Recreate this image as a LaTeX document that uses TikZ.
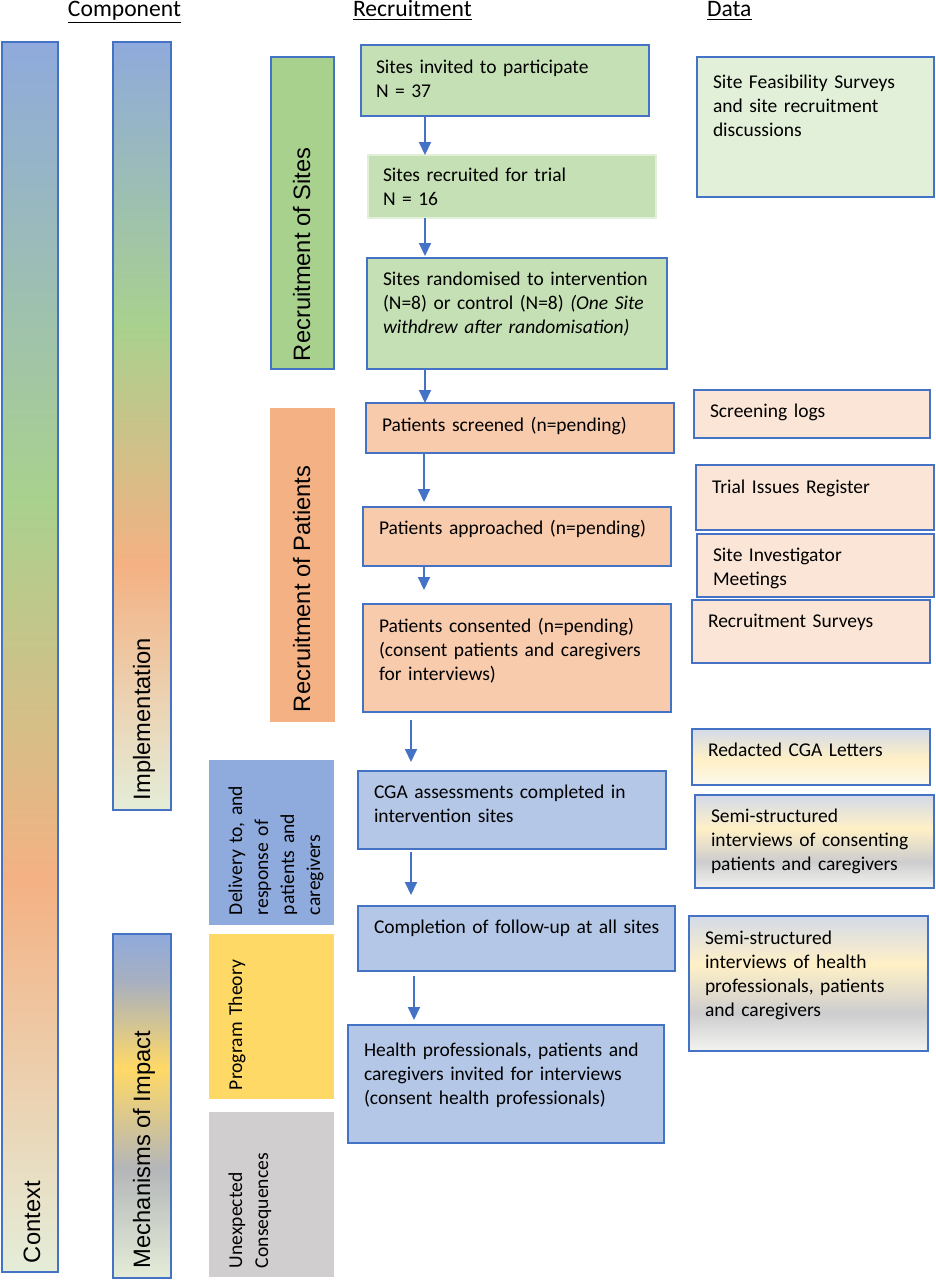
\documentclass[tikz,border=0pt]{standalone}
\usepackage{fontspec}
\setmainfont{Carlito}
\newfontfamily\arialf{Liberation Sans}
\usetikzlibrary{arrows.meta}
\definecolor{bblue}{HTML}{4472C4}
\definecolor{greenbar}{HTML}{A9D18E}
\definecolor{greenbox}{HTML}{C5E0B4}
\definecolor{greendata}{HTML}{E2F0D9}
\definecolor{orangebar}{HTML}{F4B183}
\definecolor{orangebox}{HTML}{F8CBAD}
\definecolor{orangedata}{HTML}{FBE5D6}
\definecolor{bluebar}{HTML}{8FAADC}
\definecolor{bluebox}{HTML}{B4C7E7}
\definecolor{yellowbar}{HTML}{FFD966}
\definecolor{greybar}{HTML}{D0CECE}
\definecolor{lightend}{HTML}{E4EDD8}
\definecolor{mgrey}{HTML}{B4B6B8}
\definecolor{mgreytop}{HTML}{A8B0C0}
\definecolor{dtop}{HTML}{D3DAE8}
\definecolor{dyel}{HTML}{FFF0C6}
\definecolor{dgrey}{HTML}{CDCDCF}
\definecolor{dbot}{HTML}{F3F4F0}
\definecolor{dbot6}{HTML}{FBF8EC}
\pgfdeclareverticalshading{ctxshade}{100bp}{color(0bp)=(lightend); color(25bp)=(lightend); color(41bp)=(orangebar); color(56.5bp)=(greenbar); color(75bp)=(bluebar); color(100bp)=(bluebar)}
\pgfdeclareverticalshading{mechshade}{100bp}{color(0bp)=(lightend); color(25bp)=(lightend); color(41bp)=(mgrey); color(55.5bp)=(yellowbar); color(68bp)=(mgreytop); color(75bp)=(bluebar); color(100bp)=(bluebar)}
\pgfdeclareverticalshading{datashade}{100bp}{color(0bp)=(dbot); color(25bp)=(dbot); color(39bp)=(dgrey); color(57bp)=(dyel); color(75bp)=(dtop); color(100bp)=(dtop)}
\pgfdeclareverticalshading{datashadesix}{100bp}{color(0bp)=(dbot6); color(25bp)=(dbot6); color(48bp)=(dyel); color(75bp)=(dtop); color(100bp)=(dtop)}
\begin{document}
\begin{tikzpicture}[x=0.5pt,y=-0.5pt,
  every node/.style={outer sep=0pt},
  box/.style={draw=bblue,line width=1pt,anchor=north west,inner sep=0pt},
  plain/.style={anchor=north west,inner sep=0pt},
  txt/.style={anchor=base west,inner sep=0pt,align=left,text width=175pt,font=\fontsize{9.75}{12}\selectfont},
  hdr/.style={anchor=base west,inner sep=0pt,font=\fontsize{11.8}{14}\selectfont},
  vlab/.style={anchor=base west,inner sep=0pt,rotate=90,font=\arialf\fontsize{11.85}{14}\selectfont},
  vsmall/.style={anchor=base west,inner sep=0pt,rotate=90,align=left,text width=90pt,font=\fontsize{9.8}{13}\selectfont},
  arr/.style={draw=bblue,line width=1pt,-{Triangle[width=6pt,length=6.5pt]}}]
\useasboundingbox (0,0) rectangle (936,1280);
% headers
\node[hdr] (hcomp) at (68,16) {\underline{Component}};
\node[hdr] (hrec) at (353,16) {\underline{Recruitment}};
\node[hdr] (hdata) at (707,16) {\underline{Data}};
% component bars
\node[box,shading=ctxshade,minimum width=28pt,minimum height=615pt] (ctx) at (2,42) {};
\node[box,shading=ctxshade,minimum width=29pt,minimum height=384pt] (impl) at (113,42) {};
\node[box,shading=mechshade,minimum width=29pt,minimum height=172pt] (mech) at (113,934) {};
\node[box,fill=greenbar,minimum width=31.5pt,minimum height=156pt] (rsites) at (271,57) {};
\node[plain,fill=orangebar,minimum width=32.5pt,minimum height=157pt] (rpat) at (270,408) {};
\node[plain,fill=bluebar,minimum width=62.5pt,minimum height=82.5pt] (deliv) at (209,760) {};
\node[plain,fill=yellowbar,minimum width=62.5pt,minimum height=82.5pt] (prog) at (209,934) {};
\node[plain,fill=greybar,minimum width=62.5pt,minimum height=82.5pt] (unexp) at (209,1112) {};
\node[vlab] (lctx) at (40,1263) {Context};
\node[vlab] (limpl) at (150,800) {Implementation};
\node[vlab] (lmech) at (150,1268) {Mechanisms of Impact};
\node[vlab] (lrs) at (310,361) {Recruitment of Sites};
\node[vlab] (lrp) at (310,712) {Recruitment of Patients};
\node[vsmall] (ldel) at (242,915) {Delivery to, and\\response of\\patients and\\caregivers};
\node[vsmall] (lprog) at (242,1090) {Program Theory};
\node[vsmall] (lunexp) at (242,1268) {Unexpected\\Consequences};
% recruitment flow
\node[box,fill=greenbox,minimum width=144pt,minimum height=35.5pt] (b1) at (361,45) {};
\node[box,draw=greendata,fill=greenbox,minimum width=144pt,minimum height=31.5pt] (b2) at (368,155) {};
\node[box,fill=greenbox,minimum width=150pt,minimum height=55.5pt] (b3) at (367,258) {};
\node[box,fill=orangebox,minimum width=154pt,minimum height=25pt] (b4) at (366,403) {};
\node[box,fill=orangebox,minimum width=154pt,minimum height=29.5pt] (b5) at (363,507) {};
\node[box,fill=orangebox,minimum width=154pt,minimum height=54pt] (b6) at (363,604) {};
\node[box,fill=bluebox,minimum width=154pt,minimum height=39pt] (b7) at (358,771) {};
\node[box,fill=bluebox,minimum width=158.5pt,minimum height=32.5pt] (b8) at (358,906) {};
\node[box,fill=bluebox,minimum width=158pt,minimum height=59pt] (b9) at (348,1025) {};
\node[txt] (t1) at (376,73) {Sites invited to participate\\N = 37};
\node[txt] (t2) at (383,181) {Sites recruited for trial\\N = 16};
\node[txt] (t3) at (383,285) {Sites randomised to intervention\\(N=8) or control (N=8) \textit{(One Site}\\\textit{withdrew after randomisation)}};
\node[txt] (t4) at (382,431) {Patients screened (n=pending)};
\node[txt] (t5) at (379,534) {Patients approached (n=pending)};
\node[txt] (t6) at (379,632) {Patients consented (n=pending)\\(consent patients and caregivers\\for interviews)};
\node[txt] (t7) at (374,798) {CGA assessments completed in\\intervention sites};
\node[txt] (t8) at (374,933) {Completion of follow-up at all sites};
\node[txt] (t9) at (364,1056) {Health professionals, patients and\\caregivers invited for interviews\\(consent health professionals)};
% arrows
\coordinate (ax1) at (425,0);
\coordinate (ax2) at (424,0);
\coordinate (ax3) at (411,0);
\coordinate (ax4) at (414,0);
\draw[arr] (ax1 |- b1.south) -- (ax1 |- b2.north);
\draw[arr] (ax1 |- b2.south) -- ([yshift=1pt]ax1 |- b3.north);
\draw[arr] (ax1 |- b3.south) -- (ax1 |- b4.north);
\draw[arr,shorten >=2.5pt] (ax2 |- b4.south) -- (ax2 |- b5.north);
\draw[arr,shorten >=7pt] (ax2 |- b5.south) -- (ax2 |- b6.north);
\draw[arr,shorten <=4pt,shorten >=4.5pt] (ax3 |- b6.south) -- (ax3 |- b7.north);
\draw[arr,shorten <=1.5pt,shorten >=5.5pt] (ax3 |- b7.south) -- (ax3 |- b8.north);
\draw[arr,shorten <=2.5pt,shorten >=2.5pt] (ax4 |- b8.south) -- (ax4 |- b9.north);
% data column
\node[box,fill=greendata,minimum width=118.5pt,minimum height=70pt] (d1) at (697,57) {};
\node[box,fill=orangedata,minimum width=118pt,minimum height=24pt] (d2) at (694,390) {};
\node[box,fill=orangedata,minimum width=119pt,minimum height=32.5pt] (d3) at (696,465) {};
\node[box,fill=orangedata,minimum width=118.5pt,minimum height=31.5pt] (d4) at (697,534) {};
\node[box,fill=orangedata,minimum width=119pt,minimum height=31.5pt] (d5) at (692,600) {};
\node[box,shading=datashadesix,minimum width=119pt,minimum height=28pt] (d6) at (692,729) {};
\node[box,shading=datashade,minimum width=119.5pt,minimum height=46.5pt] (d7) at (695,795) {};
\node[box,shading=datashade,minimum width=119.5pt,minimum height=67.5pt] (d8) at (689,916) {};
\node[txt] (e1) at (713,88) {Site Feasibility Surveys\\and site recruitment\\discussions};
\node[txt] (e2) at (710,417) {Screening logs};
\node[txt] (e3) at (712,493) {Trial Issues Register};
\node[txt] (e4) at (713,561) {Site Investigator\\Meetings};
\node[txt] (e5) at (708,627) {Recruitment Surveys};
\node[txt] (e6) at (708,756) {Redacted CGA Letters};
\node[txt] (e7) at (711,822) {Semi-structured\\interviews of consenting\\patients and caregivers};
\node[txt] (e8) at (705,944) {Semi-structured\\interviews of health\\professionals, patients\\and caregivers};
\end{tikzpicture}
\end{document}
